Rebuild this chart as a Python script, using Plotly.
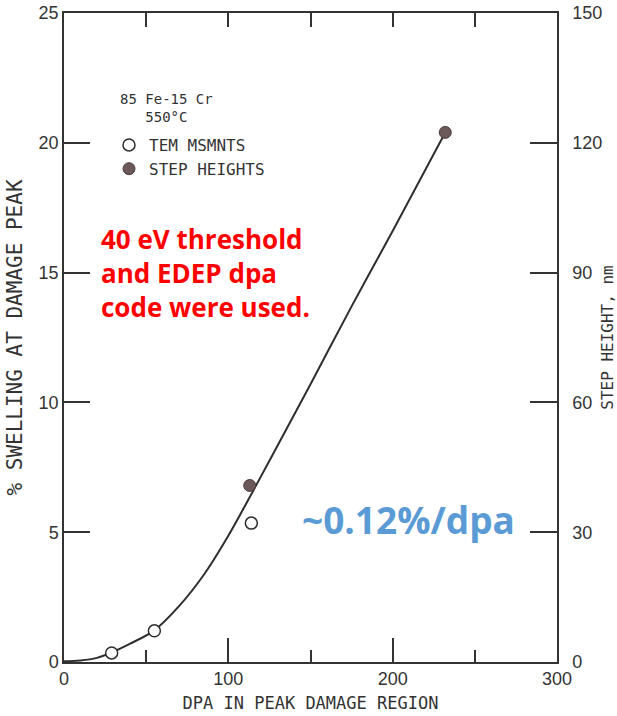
import plotly.graph_objects as go

# Data
tem_dpa = [29, 55, 114]
tem_swelling = [0.35, 1.2, 5.35]
step_dpa = [113, 232]
step_swelling = [6.8, 20.4]
curve_dpa = [0, 10, 20, 29, 40, 55, 70, 85, 98, 110, 125, 150, 175, 200, 232]
curve_swelling = [0.03, 0.06, 0.16, 0.37, 0.7, 1.22, 2.15, 3.35, 4.65, 6.0, 7.75, 10.7, 13.7, 16.6, 20.4]

x_ticks = [0, 100, 200, 300]
y_ticks = [0, 5, 10, 15, 20, 25]
nm_ticks = [0, 30, 60, 90, 120, 150]

INK = "#333333"
DIGITS = "Liberation Sans Narrow, Arial Narrow, sans-serif"
LETTERS = "DejaVu Sans Mono, monospace"

L, R, T, B = 64, 60, 13, 54
PW, PH = 617 - L - R, 716 - T - B


def px(x):
    return (x - L) / PW


def py(y):
    return (716 - B - y) / PH


fig = go.Figure()
fig.add_trace(go.Scatter(x=curve_dpa, y=curve_swelling, mode="lines",
                         line=dict(color="#2e2e2e", width=2, shape="spline", smoothing=1.0),
                         showlegend=False, hoverinfo="skip"))
fig.add_trace(go.Scatter(x=tem_dpa, y=tem_swelling, mode="markers", name="TEM MSMNTS",
                         marker=dict(symbol="circle", size=12, color="white",
                                     line=dict(color="#2e2e2e", width=1.5))))
fig.add_trace(go.Scatter(x=step_dpa, y=step_swelling, mode="markers", name="STEP HEIGHTS",
                         marker=dict(symbol="circle", size=12, color="#6b5858",
                                     line=dict(color="#4a3c3c", width=1))))
# invisible trace on secondary axes so they render
fig.add_trace(go.Scatter(x=[0], y=[0], xaxis="x2", yaxis="y2", mode="markers",
                         marker=dict(opacity=0), showlegend=False, hoverinfo="skip"))

fig.update_layout(
    width=617, height=716,
    margin=dict(l=L, r=R, t=T, b=B, autoexpand=False),
    paper_bgcolor="white", plot_bgcolor="white",
    xaxis=dict(range=[0, 300], tickvals=x_ticks, ticks="inside", ticklen=24, tickwidth=1.5,
               tickcolor=INK, showline=True, linecolor=INK, linewidth=1.5, showgrid=False,
               zeroline=False, automargin=False,
               tickfont=dict(family=DIGITS, size=18, color=INK),
               minor=dict(tickvals=[50, 150, 250], ticks="inside", ticklen=12, tickwidth=1.5,
                          tickcolor=INK, showgrid=False),
               title=dict(text="DPA IN PEAK DAMAGE REGION", standoff=9,
                          font=dict(family=LETTERS, size=17, color=INK))),
    xaxis2=dict(range=[0, 300], overlaying="x", side="top", tickvals=x_ticks, ticks="inside",
                ticklen=14, tickwidth=1.5, tickcolor=INK, showticklabels=False, showline=True,
                linecolor=INK, linewidth=1.5, showgrid=False, zeroline=False, automargin=False,
                minor=dict(tickvals=[50, 150, 250], ticks="inside", ticklen=14, tickwidth=1.5,
                           tickcolor=INK, showgrid=False)),
    yaxis=dict(range=[0, 25], tickvals=y_ticks, ticks="inside", ticklen=26, tickwidth=1.5,
               tickcolor=INK, showline=True, linecolor=INK, linewidth=1.5, showgrid=False,
               zeroline=False, automargin=False,
               tickfont=dict(family=DIGITS, size=18, color=INK),
               title=dict(text="% SWELLING AT DAMAGE PEAK", standoff=10,
                          font=dict(family=LETTERS, size=21, color=INK))),
    yaxis2=dict(range=[0, 150], overlaying="y", side="right", tickvals=nm_ticks,
                ticks="inside", ticklen=27, tickwidth=1.5, tickcolor=INK, showline=True,
                linecolor=INK, linewidth=1.5, showgrid=False, zeroline=False, automargin=False,
                ticklabelstandoff=10,
                tickfont=dict(family=DIGITS, size=18, color=INK),
                title=dict(text="STEP HEIGHT, nm", standoff=6,
                           font=dict(family=LETTERS, size=16, color=INK))),
    legend=dict(x=px(109), y=py(128), xanchor="left", yanchor="top", bgcolor="rgba(0,0,0,0)",
                font=dict(family=LETTERS, size=16, color=INK), tracegroupgap=0,
                itemwidth=30),
    showlegend=True,
)

fig.add_annotation(text="85 Fe-15 Cr<br>550°C", xref="paper", yref="paper",
                   x=px(166), y=py(108), xanchor="center", yanchor="middle",
                   showarrow=False, align="center",
                   font=dict(family=LETTERS, size=14, color=INK))
fig.add_annotation(text="40 eV threshold<br>and EDEP dpa<br>code were used.",
                   xref="paper", yref="paper", x=px(99), y=py(273),
                   xanchor="left", yanchor="middle", showarrow=False, align="left",
                   font=dict(family="Open Sans, sans-serif", size=26, color="#ff0000",
                             weight="bold"))
fig.add_annotation(text="~0.12%/dpa", xref="paper", yref="paper",
                   x=px(300), y=py(519), xanchor="left", yanchor="middle",
                   showarrow=False,
                   font=dict(family="Open Sans, sans-serif", size=37, color="#5b9bd5",
                             weight="bold"))

fig.write_html("out.html")
